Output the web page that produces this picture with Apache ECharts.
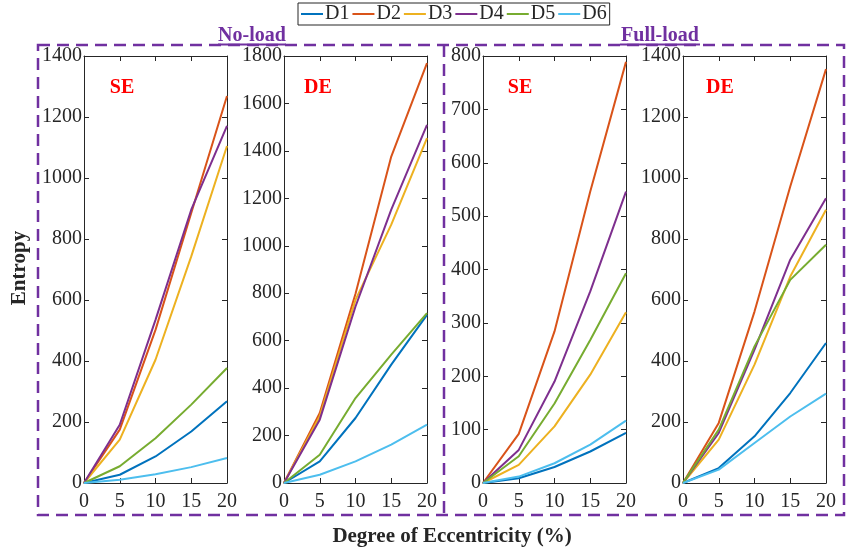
<!DOCTYPE html>
<html><head><meta charset="utf-8">
<script src="https://cdn.jsdelivr.net/npm/echarts@6/dist/echarts.min.js"></script>
<style>html,body{margin:0;padding:0;background:#fff}#c{width:859px;height:552px}</style>
</head><body><div id="c"></div>
<script>
const xValues = [0, 5, 10, 15, 20];
const seriesNames = ['D1','D2','D3','D4','D5','D6'];
const colors = ['#0072BD','#D95319','#EDB120','#7E2F8E','#77AC30','#4DBEEE'];

// No-load, SE
const noLoadSE = {
  D1: [0, 27, 87, 169, 268],
  D2: [0, 175, 502, 885, 1269],
  D3: [0, 142, 404, 743, 1105],
  D4: [0, 191, 535, 896, 1171],
  D5: [0, 55, 147, 257, 377],
  D6: [0, 11, 29, 52, 82]
};
// No-load, DE
const noLoadDE = {
  D1: [0, 91, 274, 499, 709],
  D2: [0, 295, 798, 1376, 1770],
  D3: [0, 281, 772, 1089, 1454],
  D4: [0, 267, 744, 1152, 1510],
  D5: [0, 119, 358, 541, 716],
  D6: [0, 35, 91, 162, 246]
};
// Full-load, SE
const fullLoadSE = {
  D1: [0, 9, 30, 59, 94],
  D2: [0, 92, 284, 546, 789],
  D3: [0, 34, 106, 203, 320],
  D4: [0, 62, 190, 359, 546],
  D5: [0, 50, 149, 268, 393],
  D6: [0, 12, 37, 72, 117]
};
// Full-load, DE
const fullLoadDE = {
  D1: [0, 49, 153, 295, 459],
  D2: [0, 197, 562, 972, 1357],
  D3: [0, 142, 388, 677, 896],
  D4: [0, 164, 437, 732, 934],
  D5: [0, 175, 448, 666, 781],
  D6: [0, 44, 131, 218, 293]
};
const panels = [noLoadSE, noLoadDE, fullLoadSE, fullLoadDE];
const panelLabels = ['SE','DE','SE','DE'];
const yMax = [1400, 1800, 800, 1400];
const yInterval = [200, 200, 100, 200];
const groupTitles = ['No-load','Full-load'];
const xTitle = 'Degree of Eccentricity (%)';
const yTitle = 'Entropy';

const FONT = '"Liberation Serif","Times New Roman",serif';
const TXT = '#262626';
const PURPLE = '#7030A0';
const gridLefts = [84, 284, 483, 683];
const gridW = 143, gridTop = 56, gridH = 427;

const grids = [], xAxes = [], yAxes = [], series = [];
panels.forEach((p, i) => {
  grids.push({left: gridLefts[i], top: gridTop, width: gridW, height: gridH, containLabel: false});
  const axLine = {show: true, onZero: false, lineStyle: {color: TXT, width: 1}};
  const tick = {show: true, inside: true, length: 5, lineStyle: {color: TXT}};
  const fmt = v => String(v);
  xAxes.push({type: 'value', gridIndex: i, min: 0, max: 20, interval: 5, position: 'bottom',
    axisLine: axLine, axisTick: tick, splitLine: {show: false},
    axisLabel: {fontFamily: FONT, fontSize: 20, color: TXT, margin: 9, formatter: fmt}});
  xAxes.push({type: 'value', gridIndex: i, min: 0, max: 20, interval: 5, position: 'top',
    axisLine: axLine, axisTick: tick, splitLine: {show: false}, axisLabel: {show: false}});
  yAxes.push({type: 'value', gridIndex: i, min: 0, max: yMax[i], interval: yInterval[i], position: 'left',
    axisLine: axLine, axisTick: tick, splitLine: {show: false},
    axisLabel: {fontFamily: FONT, fontSize: 20, color: TXT, margin: 2, formatter: fmt}});
  yAxes.push({type: 'value', gridIndex: i, min: 0, max: yMax[i], interval: yInterval[i], position: 'right',
    axisLine: axLine, axisTick: tick, splitLine: {show: false}, axisLabel: {show: false}});
  seriesNames.forEach((n, k) => {
    series.push({type: 'line', name: n, xAxisIndex: i * 2, yAxisIndex: i * 2,
      data: xValues.map((x, j) => [x, p[n][j]]),
      showSymbol: false, symbol: 'none', lineStyle: {width: 2, color: colors[k]},
      itemStyle: {color: colors[k]}, animation: false});
  });
});

const graphic = [
  {type: 'rect', shape: {x: 38, y: 45, width: 806, height: 470}, style: {fill: 'none', stroke: PURPLE, lineWidth: 2.5, lineDash: [12, 7]}, z: 10},
  {type: 'line', shape: {x1: 444, y1: 45, x2: 444, y2: 515}, style: {stroke: PURPLE, lineWidth: 2.5, lineDash: [12, 7]}, z: 10}
];
// group titles (underlined)
[[252, groupTitles[0], 68], [660, groupTitles[1], 80]].forEach(([cx, t, w]) => {
  graphic.push({type: 'text', x: cx, y: 46, z: 12, style: {text: t, fontFamily: FONT, fontWeight: 'bold', fontSize: 20, fill: PURPLE, align: 'center', verticalAlign: 'bottom'}});
  graphic.push({type: 'line', z: 12, shape: {x1: cx - w / 2, y1: 44.5, x2: cx + w / 2, y2: 44.5}, style: {stroke: PURPLE, lineWidth: 2}});
});
// panel labels
[122, 318, 520, 720].forEach((cx, i) => {
  graphic.push({type: 'text', x: cx, y: 88, z: 12, style: {text: panelLabels[i], fontFamily: FONT, fontWeight: 'bold', fontSize: 20, fill: '#FF0000', align: 'center', verticalAlign: 'middle'}});
});
graphic.push({type: 'text', x: 452, y: 537, z: 12, style: {text: xTitle, fontFamily: FONT, fontWeight: 'bold', fontSize: 21, fill: TXT, align: 'center', verticalAlign: 'middle'}});
graphic.push({type: 'text', x: 20, y: 268, rotation: Math.PI / 2, z: 12, style: {text: yTitle, fontFamily: FONT, fontWeight: 'bold', fontSize: 21, fill: TXT, align: 'center', verticalAlign: 'middle'}});

const chart = echarts.init(document.getElementById('c'), null, {renderer: 'canvas'});
chart.setOption({
  animation: false,
  backgroundColor: '#fff',
  legend: {data: seriesNames, top: 3, left: 298, orient: 'horizontal',
    icon: 'rect', itemWidth: 22, itemHeight: 2, itemGap: 3,
    borderColor: TXT, borderWidth: 1, padding: [1, 3, 1, 3],
    textStyle: {fontFamily: FONT, fontSize: 20, color: TXT, padding: [0, 0, 0, -3]}},
  grid: grids, xAxis: xAxes, yAxis: yAxes, series: series, graphic: graphic
});
</script></body></html>
